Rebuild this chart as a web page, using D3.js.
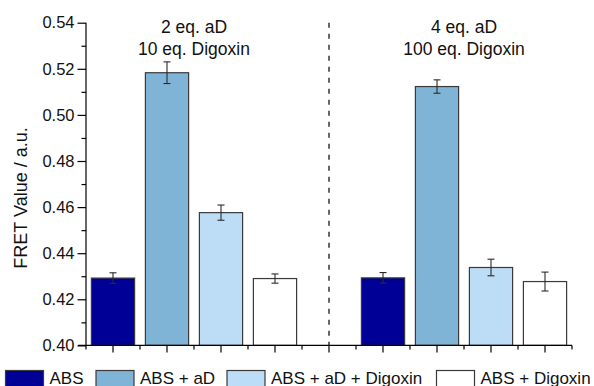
<!DOCTYPE html>
<html>
<head>
<meta charset="utf-8">
<script src="https://cdn.jsdelivr.net/npm/d3@7"></script>
<style>
  html, body { margin: 0; padding: 0; background: #fff; }
  svg { display: block; font-family: "Liberation Sans", Arial, sans-serif; }
</style>
</head>
<body>
<svg id="chart" width="594" height="386"></svg>
<script>
// Series shown in each condition group
const seriesNames = ["ABS", "ABS + aD", "ABS + aD + Digoxin", "ABS + Digoxin"];
const seriesColors = ["#000096", "#80B4D6", "#BCDDF5", "#FFFFFF"];

// Condition group labels (two lines each)
const groupLabelsTop = ["2 eq. aD", "4 eq. aD"];
const groupLabelsBottom = ["10 eq. Digoxin", "100 eq. Digoxin"];

// FRET values and standard deviations per group
const valuesGroup1 = [0.4292, 0.5183, 0.4576, 0.4290];
const errorsGroup1 = [0.0023, 0.0047, 0.0033, 0.0020];
const valuesGroup2 = [0.4293, 0.5123, 0.4338, 0.4277];
const errorsGroup2 = [0.0023, 0.0029, 0.0036, 0.0041];

// Y axis ticks
const yMajorTicks = [0.40, 0.42, 0.44, 0.46, 0.48, 0.50, 0.52, 0.54];
const yMinorTicks = [0.41, 0.43, 0.45, 0.47, 0.49, 0.51, 0.53];
const yTitle = "FRET Value / a.u.";

const groupValues = [valuesGroup1, valuesGroup2];
const groupErrors = [errorsGroup1, errorsGroup2];

// Nine slots: four bars, an empty separator slot, four bars
const slots = d3.range(9);
const bars = [];
groupValues.forEach((vals, g) => {
  vals.forEach((v, i) => {
    bars.push({ slot: g * 5 + i, series: i, value: v, err: groupErrors[g][i] });
  });
});

const svg = d3.select("#chart");
const x = d3.scaleBand().domain(slots).range([86, 572]).paddingInner(0.2).paddingOuter(0.1);
const y = d3.scaleLinear().domain([0.40, 0.54]).range([345.4, 22.7]);

const axisColor = "#000";
const plotTop = y(0.54), plotBottom = y(0.40);

// Bars
svg.append("g").selectAll("rect").data(bars).join("rect")
  .attr("x", d => x(d.slot))
  .attr("y", d => y(d.value))
  .attr("width", x.bandwidth())
  .attr("height", d => y(0.40) - y(d.value))
  .attr("fill", d => seriesColors[d.series])
  .attr("stroke", "#3a3a3a")
  .attr("stroke-width", 1.2);

// Error bars
const eb = svg.append("g").attr("stroke", "#2a2a2a").attr("stroke-width", 1.1);
bars.forEach(d => {
  const cx = x(d.slot) + x.bandwidth() / 2;
  const y1 = y(d.value + d.err), y2 = y(d.value - d.err);
  eb.append("line").attr("x1", cx).attr("x2", cx).attr("y1", y1).attr("y2", y2);
  eb.append("line").attr("x1", cx - 3.5).attr("x2", cx + 3.5).attr("y1", y1).attr("y2", y1);
  eb.append("line").attr("x1", cx - 3.5).attr("x2", cx + 3.5).attr("y1", y2).attr("y2", y2);
});

// Dashed separator between condition groups
const sepX = x(4) + x.bandwidth() / 2;
svg.append("line")
  .attr("x1", sepX).attr("x2", sepX)
  .attr("y1", plotTop).attr("y2", plotBottom)
  .attr("stroke", "#000").attr("stroke-width", 1.2)
  .attr("stroke-dasharray", "5,6");

// Y axis with major and minor ticks
const yAxis = svg.append("g").attr("transform", "translate(86,0)")
  .call(d3.axisLeft(y).tickValues(yMajorTicks).tickSize(8.5).tickPadding(3).tickFormat(d3.format(".2f")));
svg.append("g").attr("transform", "translate(86,0)")
  .call(d3.axisLeft(y).tickValues(yMinorTicks).tickSize(4.5).tickFormat(""))
  .call(g => g.select(".domain").remove());
yAxis.select(".domain").attr("d", `M0,${plotTop}V${plotBottom}`);

// X axis: major ticks at slot centres, minor ticks at slot edges
const edges = slots.map(s => x(s) - x.step() * x.paddingInner() / 2).concat([572]);
const xAxisG = svg.append("g").attr("transform", `translate(0,${plotBottom})`);
xAxisG.append("line").attr("x1", 78).attr("x2", 572).attr("y1", 0).attr("y2", 0)
  .attr("stroke", axisColor).attr("stroke-width", 1.2);
xAxisG.selectAll("line.major").data(slots).join("line").attr("class", "major")
  .attr("x1", s => x(s) + x.bandwidth() / 2).attr("x2", s => x(s) + x.bandwidth() / 2)
  .attr("y1", 0).attr("y2", 7).attr("stroke", axisColor).attr("stroke-width", 1.2);
xAxisG.selectAll("line.minor").data(edges).join("line").attr("class", "minor")
  .attr("x1", d => d).attr("x2", d => d)
  .attr("y1", 0).attr("y2", 4).attr("stroke", axisColor).attr("stroke-width", 1.2);

svg.selectAll(".tick line").attr("stroke", axisColor).attr("stroke-width", 1.2);
yAxis.select(".domain").attr("stroke", axisColor).attr("stroke-width", 1.2);
yAxis.selectAll(".tick text")
  .attr("font-family", "Liberation Sans, Arial, sans-serif")
  .attr("font-size", 16.5).attr("fill", "#111");

// Y axis title
svg.append("text")
  .attr("transform", "translate(27,198) rotate(-90)")
  .attr("text-anchor", "middle")
  .attr("font-size", 18).attr("fill", "#111")
  .text(yTitle);

// Group labels above each condition
[0, 1].forEach(g => {
  const cx = (x(g * 5 + 1) + x(g * 5 + 2) + x.bandwidth()) / 2;
  svg.append("text").attr("x", cx).attr("y", 32.5).attr("text-anchor", "middle")
    .attr("font-size", 17.5).attr("fill", "#111").text(groupLabelsTop[g]);
  svg.append("text").attr("x", cx).attr("y", 54.5).attr("text-anchor", "middle")
    .attr("font-size", 17.5).attr("fill", "#111").text(groupLabelsBottom[g]);
});

// Legend along the bottom
const legendX = [5.5, 96, 227, 436.5];
const legend = svg.append("g");
seriesNames.forEach((name, i) => {
  legend.append("rect")
    .attr("x", legendX[i]).attr("y", 370.5)
    .attr("width", 38).attr("height", 20)
    .attr("fill", seriesColors[i]).attr("stroke", "#3a3a3a").attr("stroke-width", 1.2);
  legend.append("text")
    .attr("x", legendX[i] + 44).attr("y", 383.5)
    .attr("font-size", 17).attr("fill", "#111")
    .text(name);
});
</script>
</body>
</html>
